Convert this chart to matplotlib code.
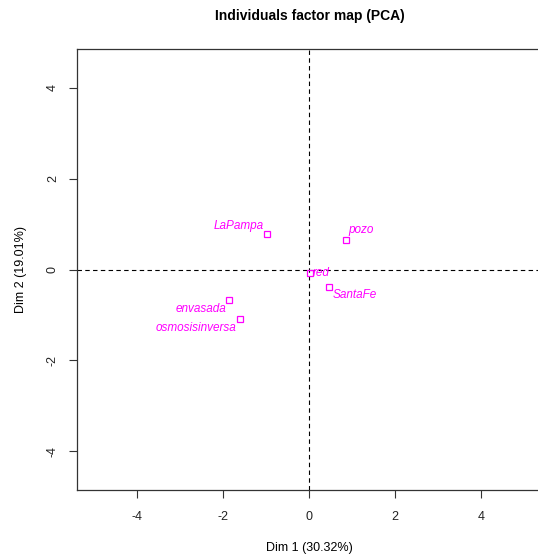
import matplotlib.pyplot as plt
import numpy as np

plt.rcParams['font.family'] = ['Liberation Sans', 'DejaVu Sans']

# individuals (Dim 1, Dim 2)
names = ['LaPampa', 'pozo', 'red', 'SantaFe', 'envasada', 'osmosisinversa']
dim1 = [-0.99, 0.86, 0.01, 0.47, -1.86, -1.62]
dim2 = [0.79, 0.64, -0.08, -0.39, -0.68, -1.08]
# label offsets in pixels (text centre relative to point)
offs = [(-28, 8), (15, 10), (12, 0), (26, -8), (-28, -9), (-44, -9)]

xticks = [-4, -2, 0, 2, 4]
yticks = [-4, -2, 0, 2, 4]

fig = plt.figure(figsize=(5.38, 5.58), dpi=100)
ax = fig.add_axes([0.143, 0.122, 0.863, 0.790])

ax.axhline(0, color='black', lw=0.8, ls=(0, (4, 3)))
ax.axvline(0, color='black', lw=0.8, ls=(0, (4, 3)))

ax.plot(dim1, dim2, 's', mfc='none', mec='#ff00ff', ms=5, mew=0.9)
for n, x, y, o in zip(names, dim1, dim2, offs):
    ax.annotate(n, (x, y), xytext=o, textcoords='offset pixels',
                ha='center', va='center', color='#ff00ff',
                style='italic', fontsize=8.5)

ax.set_xlim(-5.41, 5.41)
ax.set_ylim(-4.85, 4.85)
ax.set_xticks(xticks)
ax.set_yticks(yticks)
ax.set_xticklabels([str(t) for t in xticks])
ax.set_yticklabels([str(t) for t in yticks], rotation=90, va='center')
ax.tick_params(direction='out', length=6, width=0.8, colors='#333333',
               labelcolor='#222222', labelsize=9)
ax.tick_params(axis='x', pad=9)
ax.tick_params(axis='y', pad=7)
for s in ax.spines.values():
    s.set_color('#333333')
    s.set_linewidth(0.9)

ax.set_xlabel('Dim 1 (30.32%)', fontsize=9, labelpad=14)
ax.set_ylabel('Dim 2 (19.01%)', fontsize=9, labelpad=14)
fig.text(0.576, 0.972, 'Individuals factor map (PCA)', ha='center',
         va='center', fontsize=10, fontweight='bold')

fig.savefig('out.png', dpi=100)
